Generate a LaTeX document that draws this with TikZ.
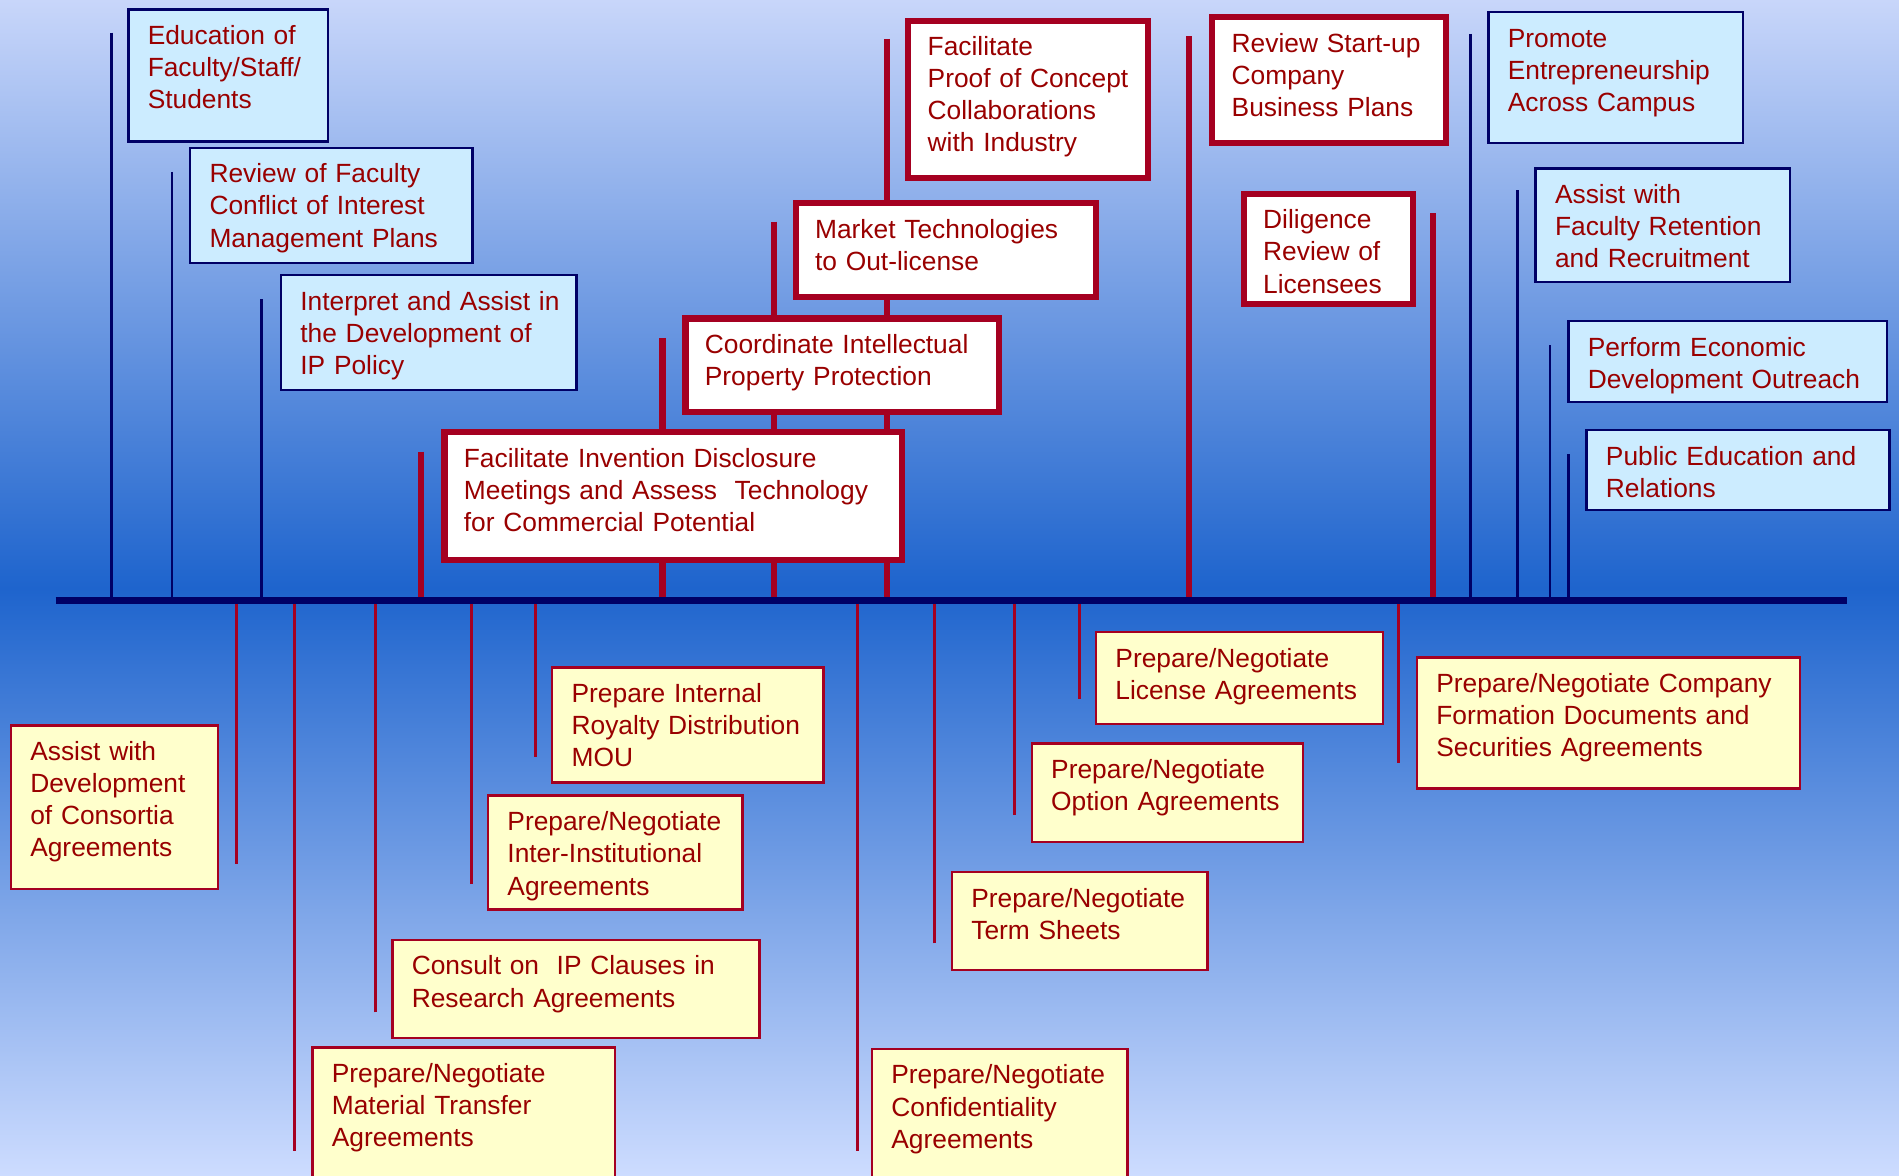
\documentclass[tikz,border=0pt]{standalone}
\usepackage{fontspec}
\setmainfont{Liberation Sans}
\usetikzlibrary{backgrounds,positioning,calc}
\definecolor{skytop}{RGB}{200,214,250}
\definecolor{skydeep}{RGB}{30,100,205}
\definecolor{skybot}{RGB}{205,220,255}
\definecolor{navy}{RGB}{0,0,102}
\definecolor{boxred}{RGB}{165,0,33}
\definecolor{txtred}{RGB}{153,0,0}
\definecolor{paleblue}{RGB}{204,236,255}
\definecolor{paleyellow}{RGB}{255,255,204}
\hyphenpenalty=10000
\exhyphenpenalty=10000
\pgfdeclarelayer{sky}
\pgfdeclarelayer{wires}
\pgfsetlayers{sky,wires,main}
\tikzset{
  every node/.style={font=\fontsize{21.75}{26.5}\selectfont, text=txtred},
  card/.style={anchor=north west, align=left, inner xsep=16pt, inner ysep=12pt, text height=17pt},
  blu/.style={card, draw=navy, line width=2pt, fill=paleblue},
  hot/.style={card, draw=boxred, line width=5pt, fill=white},
  ylw/.style={card, draw=boxred, line width=2pt, fill=paleyellow},
  navln/.style={draw=navy, line width=2pt},
  redln/.style={draw=boxred, line width=5pt},
  thinln/.style={draw=boxred, line width=2.5pt},
  axis/.style={draw=navy, line width=6pt}
}

\begin{document}
\begin{tikzpicture}[x=1pt,y=-1pt]
\useasboundingbox (0,0) rectangle (1568,971);
\begin{pgfonlayer}{sky}
\shade[top color=skytop, bottom color=skybot, middle color=skydeep] (0,0) rectangle (1568,971);
\end{pgfonlayer}
\clip (0,0) rectangle (1568,971);
\coordinate (axl) at (46,496);
\coordinate (axr) at (1525,496);

% services above the line
\node[blu, text width=133pt, text depth=68pt] (edu) at (105,7) {Education of\\Faculty/Staff/\\Students};
\node[blu, text width=201pt, text depth=54pt] (coi) at (156,121) {Review of Faculty\\Conflict of Interest\\Management Plans};
\node[blu, text width=212pt, text depth=54pt] (ippol) at (231,226) {\mbox{Interpret and Assist in}\\the Development of\\IP Policy};
\node[hot, text width=346pt, text depth=64pt] (discl) at (364.5,354.5) {Facilitate Invention Disclosure\\Meetings and Assess~ Technology\\for Commercial Potential};
\node[hot, text width=227pt, text depth=36pt] (coord) at (563.5,260.5) {Coordinate Intellectual\\Property Protection};
\node[hot, text width=216pt, text depth=36pt] (mkt) at (654.5,165.5) {Market Technologies\\to Out-license};
\node[hot, text width=166pt, text depth=89pt] (poc) at (747.5,14.5) {Facilitate\\Proof of Concept\\Collaborations\\with Industry};
\node[hot, text width=161pt, text depth=63pt] (startup) at (998.5,11.5) {Review Start-up\\Company\\Business Plans};
\node[hot, text width=108pt, text depth=50pt] (dilig) at (1024.5,157.5) {Diligence\\Review of\\Licensees};
\node[blu, text width=178pt, text depth=67pt] (entre) at (1228,9) {Promote\\Entrepreneurship\\Across Campus};
\node[blu, text width=178pt, text depth=53pt] (retain) at (1267,138) {Assist with\\Faculty Retention\\and Recruitment};
\node[blu, text width=231pt, text depth=26pt] (econ) at (1294,264) {Perform Economic\\Development Outreach};
\node[blu, text width=218pt, text depth=25pt] (pubed) at (1309,354) {Public Education and\\Relations};

% agreements below the line
\node[ylw, text width=139pt, text depth=94pt] (consort) at (8,598) {Assist with\\Development\\of Consortia\\Agreements};
\node[ylw, text width=218pt, text depth=99pt] (mta) at (257,864) {Prepare/Negotiate\\Material Transfer\\Agreements};
\node[ylw, text width=271pt, text depth=40pt] (clause) at (323,775) {Consult on~ IP Clauses in\\Research Agreements};
\node[ylw, text width=178pt, text depth=53pt] (inter) at (402,656) {Prepare/Negotiate\\Inter-Institutional\\Agreements};
\node[ylw, text width=192pt, text depth=54pt] (royal) at (455,550) {Prepare Internal\\Royalty Distribution\\MOU};
\node[ylw, text width=179pt, text depth=99pt] (cda) at (719,865) {Prepare/Negotiate\\Confidentiality\\Agreements};
\node[ylw, text width=179pt, text depth=40pt] (term) at (785,719) {Prepare/Negotiate\\Term Sheets};
\node[ylw, text width=192pt, text depth=40pt] (option) at (851,613) {Prepare/Negotiate\\Option Agreements};
\node[ylw, text width=205pt, text depth=35pt] (license) at (904,521) {Prepare/Negotiate\\License Agreements};
\node[ylw, text width=284pt, text depth=67pt] (company) at (1169,542) {Prepare/Negotiate Company\\Formation Documents and\\Securities Agreements};

\begin{pgfonlayer}{wires}
\draw[navln] ([shift={(-13,20)}]edu.north west) coordinate (t1) -- (t1 |- axl);
\draw[navln] ([shift={(-14,21)}]coi.north west) coordinate (t2) -- (t2 |- axl);
\draw[navln] ([shift={(-15,21)}]ippol.north west) coordinate (t3) -- (t3 |- axl);
\draw[redln] ([shift={(-16.5,18.5)}]discl.north west) coordinate (t4) -- (t4 |- axl);
\draw[redln] ([shift={(-16.5,18.5)}]coord.north west) coordinate (t5) -- (t5 |- axl);
\draw[redln] ([shift={(-15.5,17.5)}]mkt.north west) coordinate (t6) -- (t6 |- axl);
\draw[redln] ([shift={(-15.5,17.5)}]poc.north west) coordinate (t7) -- (t7 |- axl);
\draw[redln] ([shift={(-16.5,18.5)}]startup.north west) coordinate (t8) -- (t8 |- axl);
\draw[redln] ([shift={(14,18.5)}]dilig.north east) coordinate (t9) -- (t9 |- axl);
\draw[navln] ([shift={(-14,19)}]entre.north west) coordinate (t10) -- (t10 |- axl);
\draw[navln] ([shift={(-14,19)}]retain.north west) coordinate (t11) -- (t11 |- axl);
\draw[navln] ([shift={(-14,21)}]econ.north west) coordinate (t12) -- (t12 |- axl);
\draw[navln] ([shift={(-14,21)}]pubed.north west) coordinate (t13) -- (t13 |- axl);
\draw[thinln] ([shift={(14,115)}]consort.north east) coordinate (b1) -- (b1 |- axl);
\draw[thinln] ([shift={(-14,86)}]mta.north west) coordinate (b2) -- (b2 |- axl);
\draw[thinln] ([shift={(-13,61)}]clause.north west) coordinate (b3) -- (b3 |- axl);
\draw[thinln] ([shift={(-13,74)}]inter.north west) coordinate (b4) -- (b4 |- axl);
\draw[thinln] ([shift={(-13,75)}]royal.north west) coordinate (b5) -- (b5 |- axl);
\draw[thinln] ([shift={(-11,85)}]cda.north west) coordinate (b6) -- (b6 |- axl);
\draw[thinln] ([shift={(-13,60)}]term.north west) coordinate (b7) -- (b7 |- axl);
\draw[thinln] ([shift={(-13,60)}]option.north west) coordinate (b8) -- (b8 |- axl);
\draw[thinln] ([shift={(-13,56)}]license.north west) coordinate (b9) -- (b9 |- axl);
\draw[thinln] ([shift={(-14,88)}]company.north west) coordinate (b10) -- (b10 |- axl);
\end{pgfonlayer}

\draw[axis] (axl) -- (axr);
\end{tikzpicture}
\end{document}
